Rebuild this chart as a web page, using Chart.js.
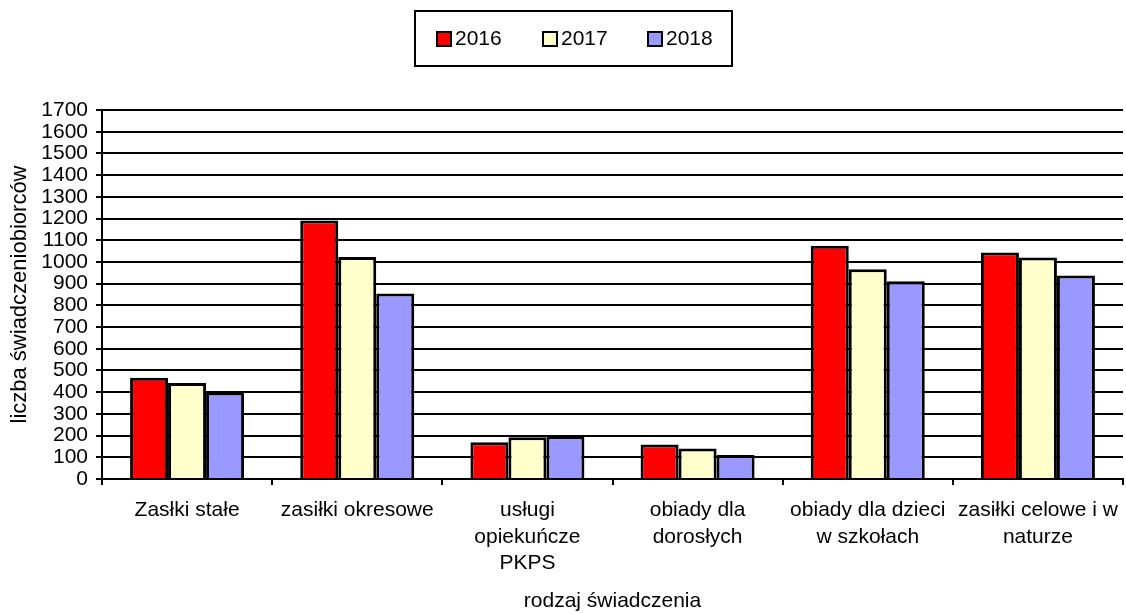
<!DOCTYPE html>
<html>
<head>
<meta charset="utf-8">
<script src="https://cdn.jsdelivr.net/npm/chart.js@4"></script>
<style>
    body { margin: 0; background: #fff; }
    #wrap { position: relative; width: 1126px; height: 614px; }
    #legend {
        position: absolute; left: 414px; top: 10px; width: 315px; height: 53px;
        border: 2px solid #000; font-family: 'Liberation Sans', Arial, sans-serif; font-size: 21px;
    }
    .item { position: absolute; top: 14px; height: 24px; line-height: 24px; }
    .sw { position: absolute; top: 5px; left: 0; width: 12px; height: 12px; border: 2px solid #000; }
    .txt { position: absolute; left: 19px; top: 0; }
</style>
</head>
<body>
<div id="wrap">
    <canvas id="chart" width="1126" height="614"></canvas>
    <div id="legend"></div>
</div>
<script>
// Data
const categories = [
    ['Zasłki stałe'],
    ['zasiłki okresowe'],
    ['usługi', 'opiekuńcze', 'PKPS'],
    ['obiady dla', 'dorosłych'],
    ['obiady dla dzieci', 'w szkołach'],
    ['zasiłki celowe i w', 'naturze']
];
const seriesNames = ['2016', '2017', '2018'];
const values2016 = [467, 1191, 169, 159, 1075, 1043];
const values2017 = [442, 1023, 192, 140, 966, 1020];
const values2018 = [399, 855, 197, 111, 911, 938];
const yMin = 0;
const yMax = 1700;
const yStep = 100;

const colors = ['#ff0000', '#ffffcc', '#9999ff'];
const FONT = "'Liberation Sans', Arial, sans-serif";

// HTML legend in a framed box
const legendEl = document.getElementById('legend');
const itemLeft = [20, 126, 231];
seriesNames.forEach((name, i) => {
    const item = document.createElement('div');
    item.className = 'item';
    item.style.left = itemLeft[i] + 'px';
    item.innerHTML = '<span class="sw" style="background:' + colors[i] + '"></span><span class="txt">' + name + '</span>';
    legendEl.appendChild(item);
});

const allValues = [values2016, values2017, values2018];

new Chart(document.getElementById('chart').getContext('2d'), {
    type: 'bar',
    data: {
        labels: categories,
        datasets: seriesNames.map((name, i) => ({
            label: name,
            data: allValues[i],
            backgroundColor: colors[i],
            borderColor: '#000',
            borderWidth: 3,
            categoryPercentage: 0.67,
            barPercentage: 1
        }))
    },
    options: {
        responsive: false,
        animation: false,
        layout: { padding: { top: 110, right: 3, left: 0, bottom: 0 } },
        plugins: {
            legend: { display: false },
            tooltip: { enabled: false }
        },
        scales: {
            x: {
                offset: true,
                grid: {
                    offset: true,
                    drawOnChartArea: false,
                    drawTicks: true,
                    tickLength: 6,
                    color: '#000',
                    lineWidth: 2
                },
                border: { color: '#000', width: 2 },
                ticks: {
                    color: '#000',
                    font: { family: FONT, size: 21, lineHeight: 1.27 },
                    padding: 12,
                    maxRotation: 0,
                    autoSkip: false
                },
                title: {
                    display: true,
                    text: 'rodzaj świadczenia',
                    color: '#000',
                    font: { family: FONT, size: 21 },
                    padding: { top: 0, bottom: 0 }
                },
                afterFit: (scale) => {
                    scale.height = 135;
                    scale.paddingLeft = 0;
                    scale.paddingRight = 0;
                }
            },
            y: {
                min: yMin,
                max: yMax,
                ticks: {
                    stepSize: yStep,
                    autoSkip: false,
                    color: '#000',
                    font: { family: FONT, size: 21, lineHeight: 1 },
                    padding: 8,
                    callback: (v) => String(v)
                },
                grid: {
                    color: '#000',
                    lineWidth: 2,
                    tickLength: 6
                },
                border: { color: '#000', width: 2 },
                title: {
                    display: true,
                    text: 'liczba świadczeniobiorców',
                    color: '#000',
                    font: { family: FONT, size: 22 },
                    padding: { top: 7, bottom: 0 }
                },
                afterFit: (scale) => { scale.width = 102; }
            }
        }
    }
});
</script>
</body>
</html>
